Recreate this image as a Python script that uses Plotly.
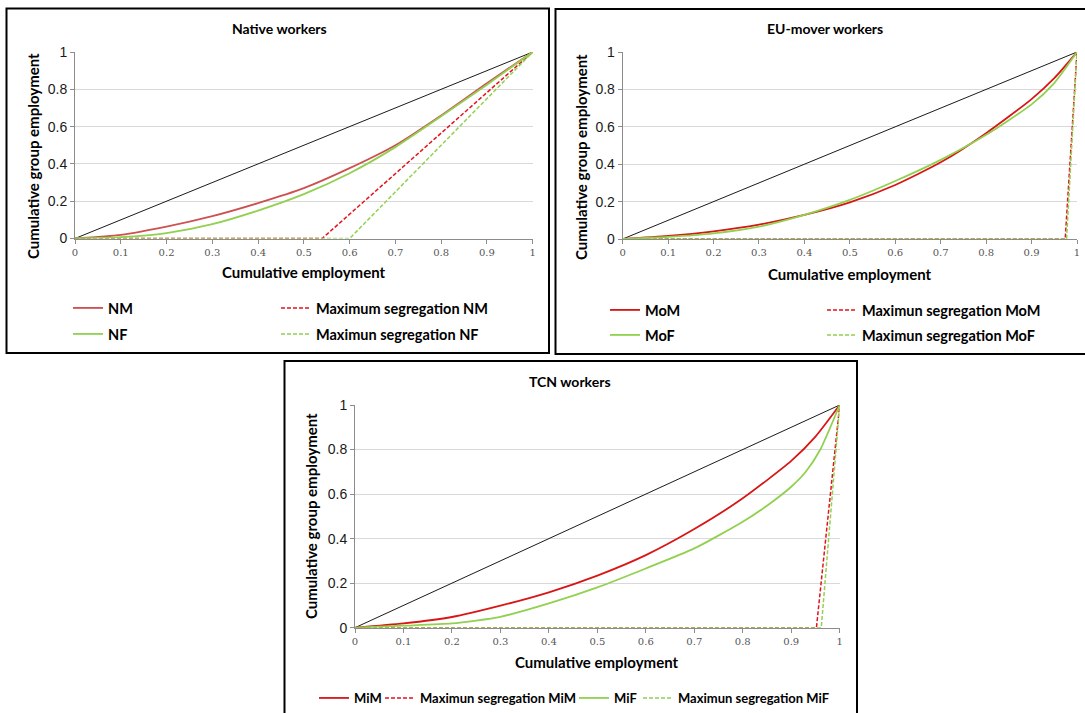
import plotly.graph_objects as go

W, H = 1085, 713

# ---------------- data ----------------
x_ticks = [0, 0.1, 0.2, 0.3, 0.4, 0.5, 0.6, 0.7, 0.8, 0.9, 1]
x_ticktext = ["0", "0.1", "0.2", "0.3", "0.4", "0.5", "0.6", "0.7", "0.8", "0.9", "1"]
y_ticks = [0, 0.2, 0.4, 0.6, 0.8, 1]
y_ticktext = ["0", "0.2", "0.4", "0.6", "0.8", "1"]

equality_x = [0, 1]
equality_y = [0, 1]

# Native workers
native_x = [0, 0.1, 0.2, 0.3, 0.4, 0.5, 0.6, 0.7, 0.8, 0.9, 1]
nm_y = [0, 0.02, 0.064, 0.12, 0.19, 0.27, 0.377, 0.50, 0.66, 0.833, 1]
nf_y = [0, 0.007, 0.029, 0.077, 0.15, 0.238, 0.35, 0.49, 0.655, 0.825, 1]
maxseg_nm_x = [0, 0.54, 1]
maxseg_nm_y = [0, 0, 1]
maxseg_nf_x = [0, 0.60, 1]
maxseg_nf_y = [0, 0, 1]

# EU-mover workers
eu_x = [0, 0.1, 0.2, 0.3, 0.4, 0.5, 0.6, 0.7, 0.8, 0.9, 0.95, 1]
mom_y = [0, 0.016, 0.041, 0.077, 0.129, 0.196, 0.289, 0.41, 0.566, 0.748, 0.86, 1]
mof_y = [0, 0.011, 0.03, 0.066, 0.129, 0.209, 0.31, 0.423, 0.557, 0.72, 0.834, 1]
maxseg_mom_x = [0, 0.974, 1]
maxseg_mom_y = [0, 0, 1]
maxseg_mof_x = [0, 0.977, 1]
maxseg_mof_y = [0, 0, 1]

# TCN workers
tcn_x_m = [0, 0.1, 0.2, 0.3, 0.4, 0.5, 0.6, 0.7, 0.8, 0.9, 0.95, 1]
mim_y = [0, 0.019, 0.048, 0.099, 0.159, 0.234, 0.326, 0.443, 0.581, 0.749, 0.858, 1]
tcn_x_f = [0, 0.1, 0.2, 0.3, 0.4, 0.5, 0.6, 0.7, 0.8, 0.85, 0.9, 0.93, 0.96, 1]
mif_y = [0, 0.009, 0.019, 0.049, 0.109, 0.181, 0.266, 0.356, 0.476, 0.548, 0.633, 0.70, 0.80, 1]
maxseg_mim_x = [0, 0.952, 1]
maxseg_mim_y = [0, 0, 1]
maxseg_mif_x = [0, 0.962, 1]
maxseg_mif_y = [0, 0, 1]

# ---------------- styling ----------------
RED_SOFT = "#CD5151"
RED = "#D81616"
RED_DASH = "#E3121B"
GREEN = "#92D050"
DASH = "4px,2px"


def px_x(p):
    return p / W


def px_y(p):
    return 1 - p / H


fig = go.Figure()

panels = [
    dict(xa="x", ya="y", box=(75, 532.7, 52, 238.5), legsize=14.5),
    dict(xa="x2", ya="y2", box=(622.7, 1077, 52, 239), legsize=14.5),
    dict(xa="x3", ya="y3", box=(355, 839.7, 405, 627.7), legsize=13),
]

series = [
    [
        dict(x=native_x, y=nm_y, name="NM", color=RED_SOFT, dash="solid", spline=True),
        dict(x=maxseg_nm_x, y=maxseg_nm_y, name="Maximum segregation NM", color=RED_DASH, dash=DASH, spline=False),
        dict(x=native_x, y=nf_y, name="NF", color=GREEN, dash="solid", spline=True),
        dict(x=maxseg_nf_x, y=maxseg_nf_y, name="Maximun segregation NF", color=GREEN, dash=DASH, spline=False),
    ],
    [
        dict(x=eu_x, y=mom_y, name="MoM", color=RED, dash="solid", spline=True),
        dict(x=maxseg_mom_x, y=maxseg_mom_y, name="Maximun segregation MoM", color=RED_DASH, dash=DASH, spline=False),
        dict(x=eu_x, y=mof_y, name="MoF", color=GREEN, dash="solid", spline=True),
        dict(x=maxseg_mof_x, y=maxseg_mof_y, name="Maximun segregation MoF", color=GREEN, dash=DASH, spline=False),
    ],
    [
        dict(x=tcn_x_m, y=mim_y, name="MiM", color=RED, dash="solid", spline=True),
        dict(x=maxseg_mim_x, y=maxseg_mim_y, name="Maximun segregation MiM", color=RED_DASH, dash=DASH, spline=False),
        dict(x=tcn_x_f, y=mif_y, name="MiF", color=GREEN, dash="solid", spline=True),
        dict(x=maxseg_mif_x, y=maxseg_mif_y, name="Maximun segregation MiF", color=GREEN, dash=DASH, spline=False),
    ],
]

# legend positions: (line start x px, row center y px)
legend_pos = [
    [(73, 308), (281, 308), (73, 334), (281, 334)],
    [(610, 310), (827, 310), (610, 335), (827, 335)],
    [(319, 698), (385, 698), (579, 698), (643, 698)],
]

layout_legends = {}
leg_idx = 0
for pi, p in enumerate(panels):
    fig.add_trace(go.Scatter(x=equality_x, y=equality_y, mode="lines",
                             line=dict(color="#1a1a1a", width=1),
                             xaxis=p["xa"], yaxis=p["ya"], showlegend=False,
                             hoverinfo="skip"))
    for si, s in enumerate(series[pi]):
        leg_idx += 1
        lname = "legend" if leg_idx == 1 else f"legend{leg_idx}"
        fig.add_trace(go.Scatter(
            x=s["x"], y=s["y"], mode="lines", name=f"<b>{s['name']}</b>",
            line=dict(color=s["color"], width=1.8 if s["dash"] == "solid" else 1.5,
                      dash=s["dash"], shape="spline" if s["spline"] else "linear",
                      smoothing=0.6),
            xaxis=p["xa"], yaxis=p["ya"], legend=lname))
        lx, ly = legend_pos[pi][si]
        layout_legends[lname] = dict(
            x=px_x(lx - 5), y=px_y(ly), xanchor="left", yanchor="middle",
            bgcolor="rgba(0,0,0,0)", borderwidth=0,
            font=dict(family="Lato", size=p["legsize"], color="black"),
            itemwidth=30, tracegroupgap=0)

axis_common_x = dict(range=[0, 1], tickvals=x_ticks, ticktext=x_ticktext,
                     showgrid=False, zeroline=False, showline=True,
                     linecolor="#8c8c8c", linewidth=1, ticks="outside",
                     ticklen=4, tickcolor="#8c8c8c",
                     tickfont=dict(family="DejaVu Serif", size=10, color="#555555"),
                     fixedrange=True, automargin=False)
axis_common_y = dict(range=[0, 1], tickvals=y_ticks, ticktext=y_ticktext,
                     showgrid=True, gridcolor="#D9D9D9", gridwidth=1,
                     zeroline=False, showline=True, linecolor="#8c8c8c",
                     linewidth=1, ticks="outside", ticklen=4, tickcolor="#8c8c8c",
                     tickfont=dict(family="Liberation Sans", size=14, color="#1a1a1a"),
                     fixedrange=True, automargin=False)

lay = dict(width=W, height=H, margin=dict(l=0, r=0, t=0, b=0, autoexpand=False),
           paper_bgcolor="white", plot_bgcolor="white", showlegend=True)

for i, p in enumerate(panels):
    x0, x1, yt, yb = p["box"]
    xk = "xaxis" if i == 0 else f"xaxis{i+1}"
    yk = "yaxis" if i == 0 else f"yaxis{i+1}"
    lay[xk] = dict(axis_common_x, domain=[px_x(x0), px_x(x1)], anchor=p["ya"])
    lay[yk] = dict(axis_common_y, domain=[px_y(yb), px_y(yt)], anchor=p["xa"])

lay.update(layout_legends)
fig.update_layout(**lay)

# panel borders
borders = [(6.5, 549, 8.5, 353), (555.5, 1095, 9, 354), (284.5, 857, 361, 725)]
for (bx0, bx1, by0, by1) in borders:
    fig.add_shape(type="rect", xref="paper", yref="paper",
                  x0=px_x(bx0), x1=px_x(bx1), y0=px_y(by1), y1=px_y(by0),
                  line=dict(color="black", width=2), layer="above")

# titles and axis titles
TITLE_FONT = dict(family="Lato", size=14, color="black")
AX_FONT = dict(family="Lato", size=15, color="black")
texts = [
    ("Native workers", 279, 28, TITLE_FONT, 0),
    ("EU-mover workers", 825, 28, TITLE_FONT, 0),
    ("TCN workers", 570, 381, TITLE_FONT, 0),
    ("Cumulative employment", 304, 272, AX_FONT, 0),
    ("Cumulative employment", 850, 274, AX_FONT, 0),
    ("Cumulative employment", 597, 662, AX_FONT, 0),
    ("Cumulative group employment", 33, 156, AX_FONT, -90),
    ("Cumulative group employment", 581, 157, AX_FONT, -90),
    ("Cumulative group employment", 311, 516, AX_FONT, -90),
]
for t, tx, ty, f, ang in texts:
    fig.add_annotation(text=f"<b>{t}</b>", x=px_x(tx), y=px_y(ty), xref="paper",
                       yref="paper", showarrow=False, font=f, textangle=ang,
                       xanchor="center", yanchor="middle")

fig.write_html("out.html",
               post_script="document.body.style.margin='0';document.body.style.overflow='hidden';")
